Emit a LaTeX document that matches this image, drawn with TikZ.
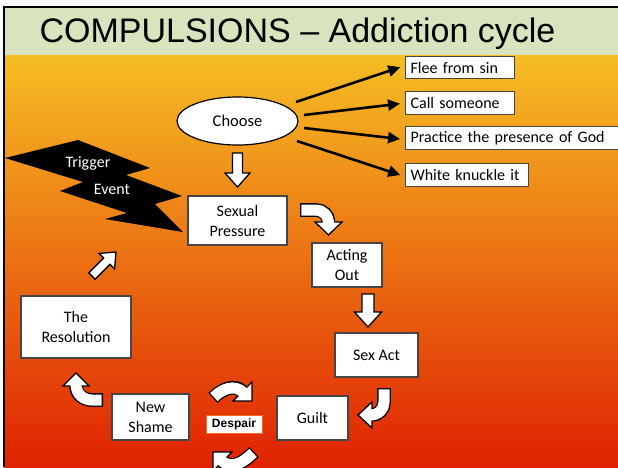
\documentclass[tikz,border=0pt]{standalone}
\usepackage{fontspec}
\setmainfont{Carlito}
\newfontfamily\titlefont{Liberation Sans}
\newfontfamily\boldsans{Liberation Sans}
\usetikzlibrary{arrows.meta,shapes.geometric,calc}
\definecolor{titlegreen}{RGB}{215,228,189}
\definecolor{gtop}{RGB}{246,190,36}
\definecolor{gmid}{RGB}{237,122,24}
\definecolor{gbot}{RGB}{224,34,2}
\definecolor{boxgray}{RGB}{70,70,70}
\definecolor{despairorange}{RGB}{234,112,30}
\newcommand\straightblk[6]{%
  \begin{scope}[shift={#1}, rotate=#2]
    \draw[blk] (0,0) -- (-#4,#5) -- (-#4,#6) -- (-#3,#6) -- (-#3,-#6) -- (-#4,-#6) -- (-#4,-#5) -- cycle;
  \end{scope}}
\begin{document}
\begin{tikzpicture}[x=1pt,y=-1pt,
  lbl/.style={font=\fontsize{16}{20}\selectfont, align=center},
  mainbox/.style={lbl, draw=boxgray, line width=1.3pt, fill=white, inner sep=0pt},
  optbox/.style={font=\fontsize{16}{20}\selectfont, draw=boxgray, line width=1.2pt, fill=white,
                 anchor=north west, align=left, inner xsep=5pt, inner ysep=0pt},
  optarrow/.style={line width=2.6pt, -{Triangle[length=12pt,width=11pt]}, shorten >=5pt},
  blk/.style={draw=black, line width=1.3pt, fill=white, line join=miter},
  bodyout/.style={line width=13.6pt, draw=black},
  bodyin/.style={line width=11pt, draw=white, shorten <=1.3pt, shorten >=-1.8pt}
]
\useasboundingbox (0,0) rectangle (618,467);
\begin{scope}
\clip (0,0) rectangle (618,467);
\fill[white] (0,0) rectangle (618,467);
% background
\fill[titlegreen] (4,8) rectangle (618,55);
\shade[top color=gtop, middle color=gmid, bottom color=gbot] (4,55) rectangle (618,467);
\draw[line width=2pt] (4,467) -- (4,7) -- (618,7);
% title
\node[font=\titlefont\fontsize{34}{40}\selectfont, anchor=base] (title) at (297.5,42) {COMPULSIONS – Addiction cycle};

% choose and options
\node[ellipse, draw=black, line width=1.2pt, fill=white, minimum width=121pt, minimum height=48pt, inner sep=0pt,
      font=\fontsize{16.5}{20}\selectfont] (choose) at (237.5,121) {Choose};
\node[optbox, minimum height=22pt, text width=99pt] (flee) at (405,56) {Flee from sin};
\node[optbox, minimum height=23pt, text width=99pt] (call) at (405,91) {Call someone};
\node[optbox, minimum height=23pt, text width=203pt] (practice) at (405,126) {Practice the presence of God};
\node[optbox, minimum height=23pt, text width=113pt] (white) at (405,163) {White knuckle it};
\coordinate (s1) at (296,102);
\coordinate (s2) at (304,115);
\coordinate (s3) at (304,128);
\coordinate (s4) at (297,141);
\draw[optarrow] (s1) -- ($(flee.west)+(0,-2)$);
\draw[optarrow] (s2) -- (call.west);
\draw[optarrow] (s3) -- ($(practice.west)+(0,1.5)$);
\draw[optarrow] (s4) -- ($(white.west)+(0,1.5)$);

% trigger event lightning
\fill[black] (5,158) -- (78,140) -- (150,168) -- (126,175) -- (182,196) -- (155,204) -- (183,232)
   -- (105,219) -- (127,213) -- (60,191) -- (83,182) -- cycle;
\node[font=\fontsize{16}{20}\selectfont, text=white] (trigger) at (88,163) {Trigger};
\node[font=\fontsize{16}{20}\selectfont, text=white] (event) at (112,189) {Event};

% cycle boxes
\node[mainbox, minimum width=99pt, minimum height=49pt] (sp) at (237.5,220.5) {Sexual\\Pressure};
\node[mainbox, minimum width=70pt, minimum height=44pt] (ao) at (347,265) {Acting\\Out};
\node[mainbox, minimum width=83pt, minimum height=44pt] (sa) at (376.5,355) {Sex Act};
\node[mainbox, minimum width=71pt, minimum height=44pt] (guilt) at (312.5,418) {Guilt};
\node[draw=despairorange, line width=1pt, fill=white, minimum width=56pt, minimum height=18pt, inner sep=0pt,
      font=\boldsans\bfseries\fontsize{12}{14}\selectfont] (despair) at (234,424) {Despair};
\node[mainbox, minimum width=77pt, minimum height=46pt] (ns) at (150.5,417) {New\\Shame};
\node[mainbox, minimum width=110pt, minimum height=62pt] (res) at (76,327) {The\\Resolution};

% straight block arrows
\straightblk{(237.5,187)}{-90}{34}{14}{12.5}{5}
\straightblk{(368,327)}{-90}{33}{15}{13.5}{6}
\straightblk{(116,252)}{45}{34}{13}{11}{4.5}

% bent arrow: Sexual Pressure -> Acting Out
\draw[bodyout] (300,210) -- (316,210) to[out=0,in=90] (328.5,222);
\draw[blk] (315,222) -- (342,222) -- (328.5,235) -- cycle;
\draw[bodyin] (300,210) -- (316,210) to[out=0,in=90] (328.5,222);

% bent arrow: Sex Act -> Guilt
\draw[bodyout] (384,388) -- (384,402) to[out=-90,in=0] (372,415);
\draw[blk] (372,402) -- (372,428) -- (358,415) -- cycle;
\draw[bodyin] (384,388) -- (384,402) to[out=-90,in=0] (372,415);

% bent arrow: New Shame -> Resolution
\draw[bodyout] (103,400) -- (92,400) to[out=180,in=-90] (76,386);
\draw[blk] (63,386) -- (89,386) -- (76,373) -- cycle;
\draw[bodyin] (103,400) -- (92,400) to[out=180,in=-90] (76,386);

% curved arrow above Despair
\draw[bodyout] (213,398) to[out=45,in=135] (242.5,391.5);
\draw[blk] (252,382) -- (252,401) -- (233,401) -- cycle;
\draw[bodyin] (213,398) to[out=45,in=135] (242.5,391.5);

% curved arrow below Despair
\draw[bodyout] (254,452) to[out=-135,in=-45] (222.5,461.5);
\draw[blk] (213,452) -- (232,452) -- (213,471) -- cycle;
\draw[bodyin] (254,452) to[out=-135,in=-45] (222.5,461.5);
\end{scope}
\end{tikzpicture}
\end{document}
